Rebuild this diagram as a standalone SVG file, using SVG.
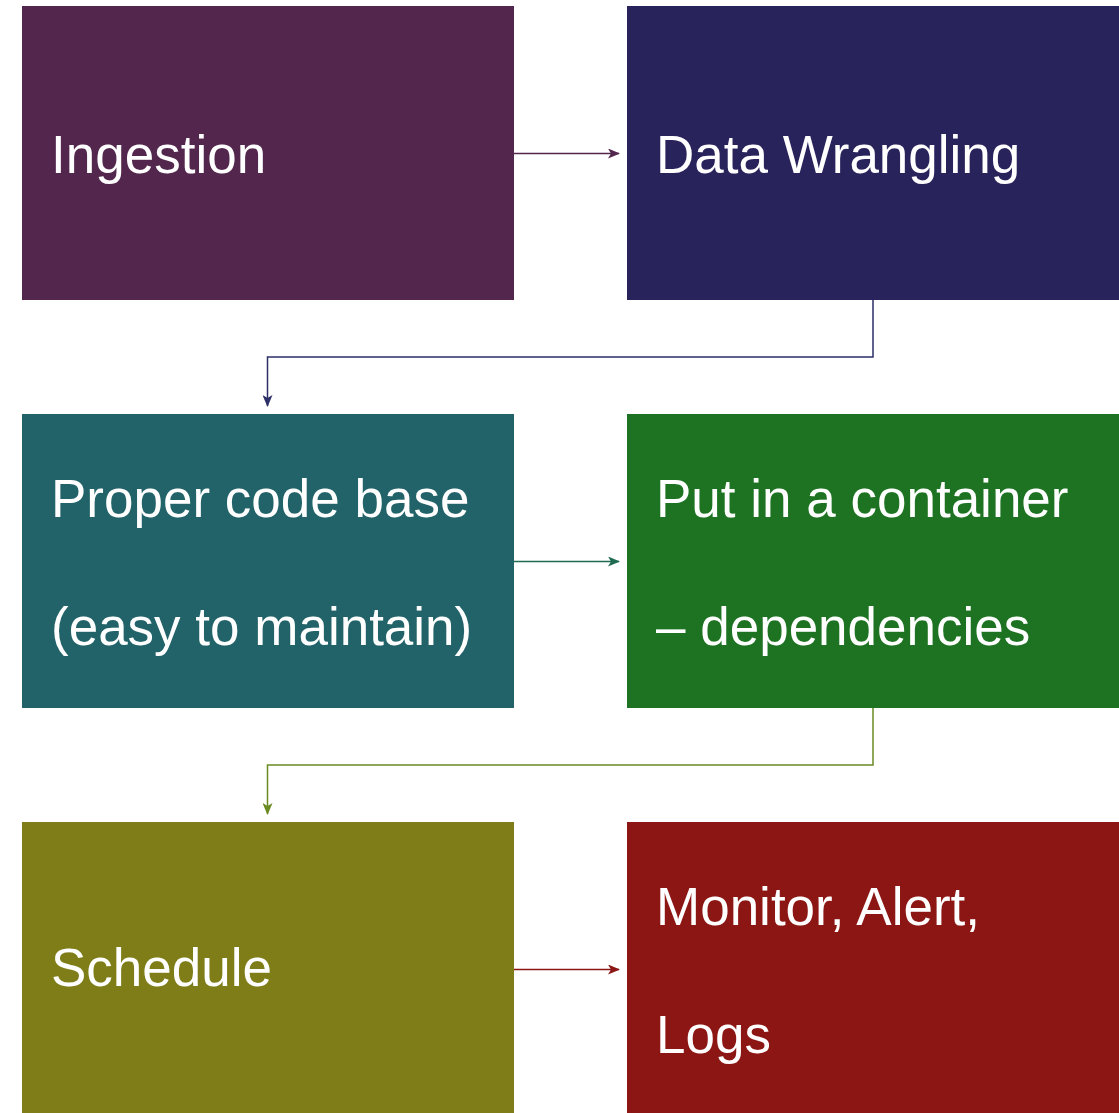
<svg xmlns="http://www.w3.org/2000/svg" width="1119" height="1113" viewBox="0 0 1119 1113">
<style>
.box{stroke:none}
.lbl{font-family:"Liberation Sans",Arial,sans-serif;font-size:53px;fill:#ffffff}
.conn{fill:none;stroke-width:1.5}
</style>
<defs>
<marker id="m1" viewBox="0 0 12 10" refX="11" refY="5" markerUnits="userSpaceOnUse" markerWidth="12" markerHeight="10" orient="auto"><path d="M0,0 L12,5 L0,10 L3,5 Z" fill="#53264d"/></marker>
<marker id="m2" viewBox="0 0 12 10" refX="11" refY="5" markerUnits="userSpaceOnUse" markerWidth="12" markerHeight="10" orient="auto"><path d="M0,0 L12,5 L0,10 L3,5 Z" fill="#2d2f68"/></marker>
<marker id="m3" viewBox="0 0 12 10" refX="11" refY="5" markerUnits="userSpaceOnUse" markerWidth="12" markerHeight="10" orient="auto"><path d="M0,0 L12,5 L0,10 L3,5 Z" fill="#1f6b52"/></marker>
<marker id="m4" viewBox="0 0 12 10" refX="11" refY="5" markerUnits="userSpaceOnUse" markerWidth="12" markerHeight="10" orient="auto"><path d="M0,0 L12,5 L0,10 L3,5 Z" fill="#6a8a22"/></marker>
<marker id="m5" viewBox="0 0 12 10" refX="11" refY="5" markerUnits="userSpaceOnUse" markerWidth="12" markerHeight="10" orient="auto"><path d="M0,0 L12,5 L0,10 L3,5 Z" fill="#8b1614"/></marker>
</defs>
<rect width="1119" height="1113" fill="#ffffff"/>
<g id="connectors">
<path class="conn" d="M514,153.5 H619" stroke="#53264d" marker-end="url(#m1)"/>
<path class="conn" d="M873,300 V357 H267.5 V406" stroke="#2d2f68" marker-end="url(#m2)"/>
<path class="conn" d="M514,561.5 H619" stroke="#1f6b52" marker-end="url(#m3)"/>
<path class="conn" d="M873,708 V765 H267.5 V814" stroke="#6a8a22" marker-end="url(#m4)"/>
<path class="conn" d="M514,969.5 H619" stroke="#8b1614" marker-end="url(#m5)"/>
</g>
<g id="ingestion">
<rect class="box" x="22" y="6" width="492" height="294" fill="#53264d"/>
<text class="lbl" x="51" y="173">Ingestion</text>
</g>
<g id="data-wrangling">
<rect class="box" x="627" y="6" width="492" height="294" fill="#29235c"/>
<text class="lbl" x="656" y="173">Data Wrangling</text>
</g>
<g id="proper-code-base">
<rect class="box" x="22" y="414" width="492" height="294" fill="#216369"/>
<text class="lbl" x="51" y="517">Proper code base</text>
<text class="lbl" x="51" y="645">(easy to maintain)</text>
</g>
<g id="container">
<rect class="box" x="627" y="414" width="492" height="294" fill="#1e7322"/>
<text class="lbl" x="656" y="517">Put in a container</text>
<text class="lbl" x="656" y="645">– dependencies</text>
</g>
<g id="schedule">
<rect class="box" x="22" y="822" width="492" height="291" fill="#7e7d18"/>
<text class="lbl" x="51" y="986">Schedule</text>
</g>
<g id="monitor">
<rect class="box" x="627" y="822" width="492" height="291" fill="#8b1614"/>
<text class="lbl" x="656" y="925">Monitor, Alert,</text>
<text class="lbl" x="656" y="1053">Logs</text>
</g>
</svg>
